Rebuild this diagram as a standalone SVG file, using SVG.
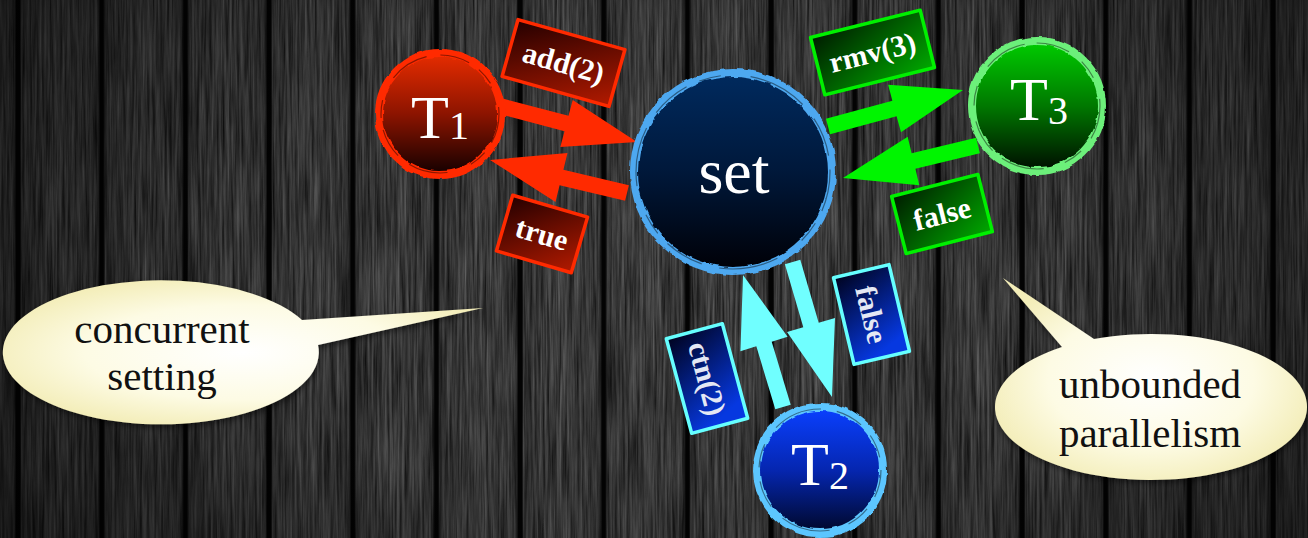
<svg xmlns="http://www.w3.org/2000/svg" width="1308" height="538" viewBox="0 0 1308 538">
  <defs>
    <style>
      .tname { font-family: "Liberation Serif", "DejaVu Serif", serif; font-size: 62px; fill: #ffffff; text-anchor: middle; }
      .tname .sub { font-size: 40px; }
      .setname { font-family: "Liberation Serif", "DejaVu Serif", serif; font-size: 64px; fill: #ffffff; text-anchor: middle; }
      .lbl { font-family: "Liberation Serif", "DejaVu Serif", serif; font-weight: bold; font-size: 30px; fill: #ffffff; text-anchor: middle; }
      .lbl.pale { fill: #e4e8f4; }
      .note { font-family: "Liberation Serif", "DejaVu Serif", serif; font-size: 41px; fill: #111111; text-anchor: middle; }
      .box { stroke-width: 3.5; stroke-linejoin: round; }
      .box.red { fill: url(#boxRed); stroke: #ff2a00; }
      .box.green { fill: url(#boxGreen); stroke: #00f000; }
      .box.cyan { fill: url(#boxCyan); stroke: #66ffff; }
      .ring { fill: none; stroke-width: 8; }
      .streak { fill: none; stroke: #000; stroke-opacity: 0.45; stroke-width: 1.2; }
      .bubble { fill: url(#bubbleFill); filter: url(#softShadow); }
    </style>

    <!-- wood texture: fine vertical grain, low contrast -->
    <filter id="woodgrain" x="0" y="0" width="1308" height="538" filterUnits="userSpaceOnUse" color-interpolation-filters="sRGB">
      <feTurbulence type="fractalNoise" baseFrequency="0.4 0.012" numOctaves="4" seed="7" result="n"/>
      <feColorMatrix in="n" type="matrix" values="0.42 0 0 0 0.04  0.42 0 0 0 0.04  0.42 0 0 0 0.04  0 0 0 0 1"/>
    </filter>
    <pattern id="planks" x="18" y="0" width="83.67" height="538" patternUnits="userSpaceOnUse">
      <rect x="0" y="0" width="83.67" height="538" fill="url(#plankShade)"/>
      <rect x="0" y="0" width="2.5" height="538" fill="#030303"/>
      <rect x="81.17" y="0" width="2.5" height="538" fill="#030303"/>
      <rect x="3" y="0" width="1" height="538" fill="#ffffff" fill-opacity="0.06"/>
    </pattern>
    <linearGradient id="plankShade" x1="0" y1="0" x2="1" y2="0">
      <stop offset="0" stop-color="#000" stop-opacity="0.6"/>
      <stop offset="0.07" stop-color="#000" stop-opacity="0.15"/>
      <stop offset="0.5" stop-color="#000" stop-opacity="0"/>
      <stop offset="0.93" stop-color="#000" stop-opacity="0.15"/>
      <stop offset="1" stop-color="#000" stop-opacity="0.6"/>
    </linearGradient>
    <radialGradient id="vignette" cx="680" cy="250" r="760" gradientUnits="userSpaceOnUse" gradientTransform="translate(680 250) scale(1 0.7) translate(-680 -250)">
      <stop offset="0" stop-color="#000" stop-opacity="0"/>
      <stop offset="0.55" stop-color="#000" stop-opacity="0.15"/>
      <stop offset="1" stop-color="#000" stop-opacity="0.55"/>
    </radialGradient>

    <!-- rough brush edge for the rings -->
    <filter id="brush" x="-20%" y="-20%" width="140%" height="140%">
      <feTurbulence type="fractalNoise" baseFrequency="0.09" numOctaves="2" seed="3" result="t"/>
      <feDisplacementMap in="SourceGraphic" in2="t" scale="4" xChannelSelector="R" yChannelSelector="G"/>
    </filter>
    <filter id="softShadow" x="-10%" y="-10%" width="120%" height="130%">
      <feGaussianBlur in="SourceAlpha" stdDeviation="3"/>
      <feOffset dx="1" dy="3" result="b"/>
      <feComponentTransfer><feFuncA type="linear" slope="0.5"/></feComponentTransfer>
      <feMerge><feMergeNode/><feMergeNode in="SourceGraphic"/></feMerge>
    </filter>

    <!-- node fills -->
    <linearGradient id="fillT1" x1="0" y1="0" x2="0" y2="1">
      <stop offset="0" stop-color="#e62c00"/>
      <stop offset="0.5" stop-color="#8c1400"/>
      <stop offset="1" stop-color="#140000"/>
    </linearGradient>
    <linearGradient id="fillSet" x1="0" y1="0" x2="0" y2="1">
      <stop offset="0" stop-color="#002a5e"/>
      <stop offset="0.5" stop-color="#00183a"/>
      <stop offset="1" stop-color="#000006"/>
    </linearGradient>
    <linearGradient id="fillT3" x1="0" y1="0" x2="0" y2="1">
      <stop offset="0" stop-color="#00cc00"/>
      <stop offset="0.5" stop-color="#007800"/>
      <stop offset="1" stop-color="#000e00"/>
    </linearGradient>
    <linearGradient id="fillT2" x1="0" y1="0" x2="0" y2="1">
      <stop offset="0" stop-color="#0a40ff"/>
      <stop offset="0.5" stop-color="#0526b0"/>
      <stop offset="1" stop-color="#00082a"/>
    </linearGradient>

    <!-- label fills -->
    <linearGradient id="boxRed" x1="0" y1="0" x2="1" y2="1">
      <stop offset="0" stop-color="#240000"/>
      <stop offset="1" stop-color="#b21a00"/>
    </linearGradient>
    <linearGradient id="boxGreen" x1="0" y1="0" x2="1" y2="1">
      <stop offset="0" stop-color="#001c00"/>
      <stop offset="1" stop-color="#00a800"/>
    </linearGradient>
    <linearGradient id="boxCyan" x1="0" y1="0" x2="0.3" y2="1">
      <stop offset="0" stop-color="#00031e"/>
      <stop offset="1" stop-color="#0638e0"/>
    </linearGradient>

    <radialGradient id="bubbleFill" cx="0.5" cy="0.5" r="0.55">
      <stop offset="0" stop-color="#ffffff"/>
      <stop offset="0.6" stop-color="#fdfbe4"/>
      <stop offset="1" stop-color="#f3edb8"/>
    </radialGradient>
  </defs>

  <!-- background: dark wooden planks -->
  <g id="background">
    <rect width="1308" height="538" fill="#333"/>
    <rect width="1308" height="538" filter="url(#woodgrain)"/>
    <rect width="1308" height="538" fill="url(#planks)"/>
    <rect width="1308" height="538" fill="url(#vignette)"/>
  </g>

  <!-- speech bubbles -->
  <g id="note-concurrent">
    <path class="bubble" d="M302,320 L483,308 L318,345 A158,72 0 1 1 302,320 Z"/>
    <text class="note" x="162" y="343">concurrent</text>
    <text class="note" x="162" y="390">setting</text>
  </g>
  <g id="note-parallelism">
    <path class="bubble" d="M1062,347 L1003,278 L1094,339 A156,73 0 1 1 1062,347 Z"/>
    <text class="note" x="1150" y="398">unbounded</text>
    <text class="note" x="1150" y="447">parallelism</text>
  </g>

  <!-- connectors -->
  <g id="connectors">
    <polygon id="arrow-t1-set" fill="#ff2a00" points="502,98.3 568.5,115.8 572.7,99.9 637,142 560.3,147.1 564.5,131.2 498,113.7"/>
    <polygon id="arrow-set-t1" fill="#ff2a00" points="628.9,185.2 563.4,169.7 567.5,152.9 490,160 555.5,202.1 559.6,185.3 625.1,200.8"/>
    <polygon id="arrow-set-t3" fill="#00f500" points="825.9,118.8 892.4,100.8 888.1,84.7 963,90 901,132.3 896.6,116.2 830.1,134.2"/>
    <polygon id="arrow-t3-set" fill="#00f500" points="976.1,137.7 911.6,153.2 907.7,136.8 843,178 919.3,185.2 915.4,168.8 979.9,153.3"/>
    <polygon id="arrow-t2-set" fill="#70ffff" points="790.7,404.7 771.7,341.7 787.6,336.8 743,275 740.4,351.2 756.3,346.3 775.3,409.3"/>
    <polygon id="arrow-set-t2" fill="#70ffff" points="800.3,259.8 818.7,322.8 835,318 832,397 787,332 803.3,327.2 784.9,264.2"/>
  </g>

  <!-- nodes -->
  <g id="node-set">
    <circle cx="733" cy="172" r="98" fill="url(#fillSet)"/>
    <circle class="ring" cx="733" cy="172" r="99" stroke="#4ea8f0" filter="url(#brush)"/>
    <circle class="streak" cx="733" cy="172" r="97" stroke-dasharray="40 14 22 30 60 18"/>
    <text class="setname" x="734" y="193">set</text>
  </g>
  <g id="node-t1">
    <circle cx="440" cy="114" r="60" fill="url(#fillT1)"/>
    <circle class="ring" cx="440" cy="114" r="61" stroke="#ff2a00" filter="url(#brush)"/>
    <circle class="streak" cx="440" cy="114" r="59" stroke-dasharray="30 12 18 25 40 14"/>
    <text class="tname" x="440" y="138">T<tspan class="sub" dy="1">1</tspan></text>
  </g>
  <g id="node-t3">
    <circle cx="1037" cy="106" r="64" fill="url(#fillT3)"/>
    <circle class="ring" cx="1037" cy="106" r="65" stroke="#6cf07a" filter="url(#brush)"/>
    <circle class="streak" cx="1037" cy="106" r="63" stroke-dasharray="34 16 20 22 44 12"/>
    <text class="tname" x="1039" y="120">T<tspan class="sub" dy="4">3</tspan></text>
  </g>
  <g id="node-t2">
    <circle cx="820" cy="470" r="62" fill="url(#fillT2)"/>
    <circle class="ring" cx="820" cy="470" r="63" stroke="#5cc6ff" filter="url(#brush)"/>
    <circle class="streak" cx="820" cy="470" r="61" stroke-dasharray="28 14 24 20 50 16"/>
    <text class="tname" x="820" y="485">T<tspan class="sub" dy="4">2</tspan></text>
  </g>

  <!-- edge labels -->
  <g id="label-add" transform="translate(563.5,63) rotate(15.7)">
    <rect class="box red" x="-55.5" y="-29.5" width="111" height="59"/>
    <text class="lbl" y="10">add(2)</text>
  </g>
  <g id="label-true" transform="translate(542,234) rotate(16.3)">
    <rect class="box red" x="-39" y="-29" width="78" height="58"/>
    <text class="lbl" y="10">true</text>
  </g>
  <g id="label-rmv" transform="translate(872.5,52.5) rotate(-14)">
    <rect class="box green" x="-56.5" y="-29.5" width="113" height="59"/>
    <text class="lbl" y="10">rmv(3)</text>
  </g>
  <g id="label-false-t3" transform="translate(942,214) rotate(-14.3)">
    <rect class="box green" x="-44.5" y="-29.5" width="89" height="59"/>
    <text class="lbl" y="10">false</text>
  </g>
  <g id="label-ctn" transform="translate(707,378.5) rotate(-15)">
    <rect class="box cyan" x="-29" y="-49" width="58" height="98"/>
    <text class="lbl pale" transform="rotate(90)" y="10">ctn(2)</text>
  </g>
  <g id="label-false-t2" transform="translate(871.5,314.5) rotate(-13.3)">
    <rect class="box cyan" x="-28.5" y="-44.5" width="57" height="89"/>
    <text class="lbl pale" transform="rotate(90)" y="10">false</text>
  </g>
</svg>
